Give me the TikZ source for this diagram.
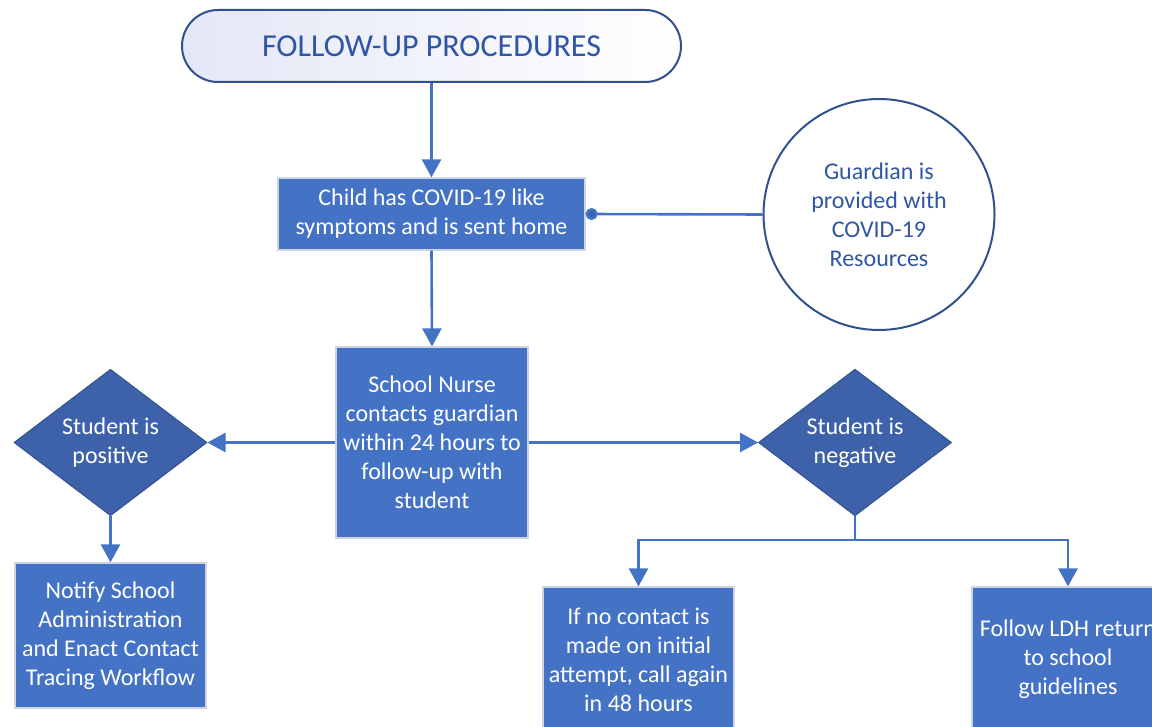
\documentclass[tikz,border=0pt]{standalone}
\usepackage{fontspec}
\setmainfont{Carlito}
\usetikzlibrary{shapes.geometric,arrows.meta}

\definecolor{boxblue}{RGB}{68,114,196}
\definecolor{darkblue}{RGB}{61,98,170}
\definecolor{edgeblue}{RGB}{47,82,143}
\definecolor{textblue}{RGB}{47,85,164}
\definecolor{titlefill}{RGB}{228,231,246}
\definecolor{boxedge}{RGB}{205,212,226}

\tikzset{
	bodyfont/.style={font=\fontsize{12}{14.5}\selectfont},
	flowbox/.style={draw=boxedge, line width=0.6pt, fill=boxblue, text=white, align=center, inner sep=0pt, bodyfont},
	decision/.style={diamond, draw=edgeblue, line width=0.5pt, fill=darkblue, text=white, align=center, inner sep=0pt, minimum width=96.5pt, minimum height=72pt, bodyfont},
	link/.style={draw=boxblue, line width=1.3pt, -{Triangle[width=9.5pt,length=9pt]}},
	dotlink/.style={draw=boxblue, line width=1.3pt, {Circle[length=6pt,fill=darkblue]}-},
}

\begin{document}
\begin{tikzpicture}[x=0.5pt, y=-0.5pt]
	\useasboundingbox (0,0) rectangle (1152,727);
	\clip (0,0) rectangle (1152,727);
	\node[draw=edgeblue, line width=1pt, rounded corners=18pt, left color=titlefill, right color=white, minimum width=249.5pt, minimum height=36pt, text=textblue, font=\fontsize{16}{19}\selectfont] (title)at(431.5, 46) {FOLLOW-UP PROCEDURES};
	\node[flowbox, minimum width=153.5pt, minimum height=36pt] (child)at(431.5, 214) {Child has COVID-19 like\\symptoms and is sent home};
	\node[circle, draw=edgeblue, line width=1pt, minimum size=115.5pt, text=textblue, align=center, inner sep=0pt, bodyfont] (guardian)at(879, 214.5) {Guardian is\\provided with\\COVID-19\\Resources};
	\node[flowbox, minimum width=96pt, minimum height=95.5pt] (nurse)at(432, 442.5) {School Nurse\\contacts guardian\\within 24 hours to\\follow-up with\\student};
	\node[decision] (positive)at(110.5, 442.5) {Student is\\positive};
	\node[decision] (negative)at(855, 442.5) {Student is\\negative};
	\node[flowbox, minimum width=95.5pt, minimum height=72.5pt] (notify)at(110.5, 635.5) {Notify School\\Administration\\and Enact Contact\\Tracing Workflow};
	\node[flowbox, minimum width=95.5pt, minimum height=72.5pt] (retry)at(638.5, 659.5) {If no contact is\\made on initial\\attempt, call again\\in 48 hours};
	\node[flowbox, minimum width=96pt, minimum height=72.5pt] (ldh)at(1068, 659.5) {Follow LDH return\\to school\\guidelines};
	\coordinate (split) at (855, 540);
	\draw[link] (title.south) -- (child.north);
	\draw[dotlink] (child.east) -- (guardian.west);
	\draw[link] (child.south) -- (nurse.north);
	\draw[link] (nurse.west) -- (positive.east);
	\draw[link] (positive.south) -- (notify.north);
	\draw[link] (nurse.east) -- (negative.west);
	\draw[link] (negative.south) -- (split) -| (retry.north);
	\draw[link] (split) -| (ldh.north);
\end{tikzpicture}
\end{document}
